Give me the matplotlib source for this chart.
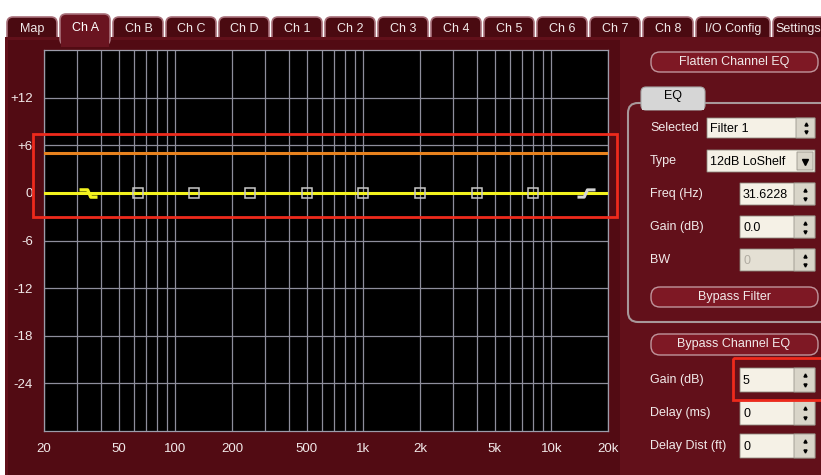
import numpy as np
import matplotlib.pyplot as plt
from matplotlib.patches import FancyBboxPatch, Rectangle
from matplotlib.path import Path
from matplotlib.ticker import LogLocator, NullFormatter

plt.rcParams['font.family'] = ['Liberation Sans', 'DejaVu Sans']

# ---- data ----
tab_names = ['Map', 'Ch A', 'Ch B', 'Ch C', 'Ch D', 'Ch 1', 'Ch 2', 'Ch 3', 'Ch 4',
             'Ch 5', 'Ch 6', 'Ch 7', 'Ch 8', 'I/O Config', 'Settings']
active_tab = 'Ch A'

x_tick_vals = [20, 50, 100, 200, 500, 1000, 2000, 5000, 10000, 20000]
x_tick_labels = ['20', '50', '100', '200', '500', '1k', '2k', '5k', '10k', '20k']
y_tick_vals = [12, 6, 0, -6, -12, -18, -24]
y_tick_labels = ['+12', '+6', '0', '-6', '-12', '-18', '-24']

# eq filters (freq in Hz, gain in dB)
lo_shelf_freq = 31.6228
hi_shelf_freq = 15849
peak_freqs = [63, 125, 250, 500, 1000, 2000, 4000, 8000]
peak_gains = [0, 0, 0, 0, 0, 0, 0, 0]
shelf_gains = [0, 0]

# overall eq response (flat) and channel gain
resp_freqs = [20, 20000]
resp_gain = [0, 0]
channel_gain_db = 5

eq_labels = ['Selected', 'Type', 'Freq (Hz)', 'Gain (dB)', 'BW']
eq_values = ['Filter 1', '12dB LoShelf', '31.6228', '0.0', '0']
chan_labels = ['Gain (dB)', 'Delay (ms)', 'Delay Dist (ft)']
chan_values = [str(channel_gain_db), '0', '0']

# ---- colours ----
bg_white = 'white'
maroon = '#62101a'
panel_dark = '#520b13'
tab_face = '#4a0a11'
tab_edge = '#a8707a'
txt = '#f2eaea'
btn_face = '#7e1824'
btn_edge = '#c0959c'
field = '#f5f1e6'
spin = '#d9d5c9'
red = '#ee2a1c'
fs = 9

W, H = 821, 475
fig = plt.figure(figsize=(W / 100, H / 100), dpi=100, facecolor=bg_white)

# background axes in pixel coordinates
ui = fig.add_axes([0, 0, 1, 1], zorder=0)
ui.set_xlim(0, W)
ui.set_ylim(H, 0)
ui.axis('off')


def box(ax, x0, y0, x1, y1, fc, ec='none', r=0, lw=1.0, z=1):
    p = FancyBboxPatch((x0, y0), x1 - x0, y1 - y0,
                       boxstyle=f'round,pad=0,rounding_size={r}',
                       fc=fc, ec=ec, lw=lw, zorder=z)
    ax.add_patch(p)
    return p


# tabs
tab_w = [51] * 13 + [75, 70]
x = 7
tab_pos = []
for name, w in zip(tab_names, tab_w):
    tab_pos.append((name, x, w))
    x += w + 2
for name, x0, w in tab_pos:
    if name != active_tab:
        box(ui, x0, 17, x0 + w - 1, 46, tab_face, tab_edge, r=6, lw=1.2, z=1)
        # last tab is cut by the window edge, keep its label inside
        xc = x0 + w / 2 if x0 + w < W else (x0 + W) / 2 + 1
        ui.text(xc, 29, name, color=txt, fontsize=fs, ha='center', va='center', zorder=3)

# main body
box(ui, 5, 37, W + 5, H + 5, maroon, z=2)
box(ui, 8, 40, 620, H + 5, panel_dark, z=2)
for name, x0, w in tab_pos:
    if name == active_tab:
        box(ui, x0, 14, x0 + w - 1, 45, '#6a1420', tab_edge, r=6, lw=1.2, z=2.5)
        box(ui, x0 + 1, 36, x0 + w - 2, 47, '#6a1420', z=2.6)
        ui.text(x0 + w / 2, 28, name, color='white', fontsize=fs, ha='center', va='center', zorder=3)


# right panel
def button(y0, y1, label):
    box(ui, 651, y0, 818, y1, btn_face, btn_edge, r=9, lw=1.0, z=3)
    ui.text(734, (y0 + y1) / 2, label, color=txt, fontsize=fs, ha='center', va='center', zorder=4)


def spinner(x0, y0, x1, y1):
    box(ui, x0, y0, x1, y1, spin, '#9a968c', lw=0.6, z=4)
    xm = (x0 + x1) / 2
    ui.plot([xm], [y0 + (y1 - y0) * 0.3], marker='^', ms=2.2, color='black', zorder=5)
    ui.plot([xm], [y0 + (y1 - y0) * 0.72], marker='v', ms=2.2, color='black', zorder=5)


def field_box(x0, y0, x1, y1, value, disabled=False):
    box(ui, x0, y0, x1, y1, '#e4e0d4' if disabled else field, '#8c887e', lw=0.6, z=3)
    ui.text(x0 + 3, (y0 + y1) / 2 + 1, value, color='#b0aca2' if disabled else 'black',
            fontsize=fs, ha='left', va='center', zorder=5)


button(52, 72, 'Flatten Channel EQ')

# EQ group box + tab
box(ui, 628, 103, 840, 322, 'none', '#a8989a', r=10, lw=1.5, z=3)
box(ui, 641, 87, 705, 110, '#d6d6d6', '#a8a8a8', r=5, lw=0.8, z=3)
box(ui, 642, 103, 704, 110, '#d6d6d6', z=3.1)
ui.text(673, 96, 'EQ', color='black', fontsize=fs, ha='center', va='center', zorder=4)

eq_rows = [128, 161, 194, 227, 260]
for lab, val, yc in zip(eq_labels, eq_values, eq_rows):
    ui.text(650, yc, lab, color=txt, fontsize=fs, ha='left', va='center', zorder=4)
    if lab == 'Selected':
        field_box(707, yc - 10, 815, yc + 10, val)
        spinner(796, yc - 10, 815, yc + 10)
    elif lab == 'Type':
        field_box(707, yc - 11, 815, yc + 11, val)
        box(ui, 797, yc - 9, 813, yc + 9, spin, '#9a968c', lw=0.6, z=4)
        ui.plot([805], [yc + 1], marker='v', ms=5, color='black', zorder=5)
    else:
        field_box(740, yc - 11, 815, yc + 11, val, disabled=(lab == 'BW'))
        spinner(794, yc - 11, 815, yc + 11)

button(287, 307, 'Bypass Filter')
button(334, 355, 'Bypass Channel EQ')

chan_rows = [380, 413, 446]
for lab, val, yc in zip(chan_labels, chan_values, chan_rows):
    ui.text(650, yc, lab, color=txt, fontsize=fs, ha='left', va='center', zorder=4)
    field_box(740, yc - 12, 815, yc + 12, val)
    spinner(794, yc - 12, 815, yc + 12)

# ---- EQ plot ----
ax = fig.add_axes([44 / W, 1 - 431 / H, 564 / W, 381 / H], zorder=2)
ax.set_facecolor('black')
ax.set_xscale('log')
ax.set_xlim(20, 20000)
ax.set_ylim(-30, 18)
ax.set_xticks(x_tick_vals)
ax.set_xticklabels(x_tick_labels)
ax.xaxis.set_minor_locator(LogLocator(base=10, subs=np.arange(1, 10)))
ax.xaxis.set_minor_formatter(NullFormatter())
ax.set_yticks(y_tick_vals)
ax.set_yticklabels(y_tick_labels)
ax.tick_params(which='both', length=0, colors=txt, labelsize=fs + 0.5)
ax.tick_params(axis='x', pad=9)
ax.tick_params(axis='y', pad=8)
ax.grid(True, which='both', axis='x', color='#8e8e9c', lw=0.9)
ax.grid(True, which='major', axis='y', color='#8e8e9c', lw=0.9)
for s in ax.spines.values():
    s.set_color('#9c9caa')
    s.set_linewidth(0.9)

ax.axhline(channel_gain_db, color='#e8821e', lw=2.2, zorder=3)
ax.plot(resp_freqs, resp_gain, color='#f2f21e', lw=2.2, zorder=4)
ax.plot(peak_freqs, peak_gains, ls='none', marker='s', ms=7, mfc='none',
        mec='#c8c8c8', mew=1.1, zorder=5)

# shelf symbols: low shelf steps down, high shelf steps up
lo_shape = Path([(-1, 0.4), (-0.1, 0.4), (0.25, -0.4), (1, -0.4)],
                [Path.MOVETO, Path.LINETO, Path.LINETO, Path.LINETO])
hi_shape = Path([(-1, -0.4), (-0.25, -0.4), (0.1, 0.4), (1, 0.4)],
                [Path.MOVETO, Path.LINETO, Path.LINETO, Path.LINETO])
ax.plot([lo_shelf_freq * 1.08], [shelf_gains[0]], ls='none', marker=lo_shape, ms=13,
        mfc='none', mec='#f2f21e', mew=2.4, zorder=6)
ax.plot([hi_shelf_freq * 0.96], [shelf_gains[1]], ls='none', marker=hi_shape, ms=13,
        mfc='none', mec='#d4d4d4', mew=2.2, zorder=6)

# ---- red highlight boxes ----
top = fig.add_axes([0, 0, 1, 1], zorder=3)
top.set_xlim(0, W)
top.set_ylim(H, 0)
top.axis('off')
top.patch.set_alpha(0)
top.add_patch(Rectangle((33, 134), 584, 83, fill=False, ec=red, lw=2))
top.add_patch(Rectangle((733, 358), 90, 42, fill=False, ec=red, lw=2))

fig.savefig('out.png', dpi=100, facecolor=fig.get_facecolor())
